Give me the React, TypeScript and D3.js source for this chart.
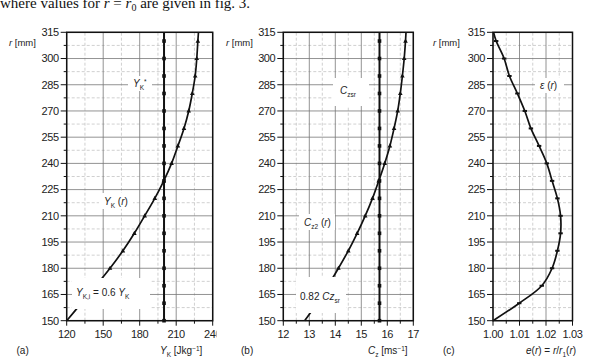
import React from "react";
import * as d3 from "d3";

// radial stations [mm]
const rValues = [150, 160, 170, 180, 190, 200, 210, 220, 230, 240, 250, 260, 270, 280, 290, 300, 310, 315];
const rLineMarks = [150, 160, 170, 180, 190, 200, 210, 220, 230, 240, 250, 260, 270, 280, 290, 300, 310];
const rCurveMarks = [180, 190, 200, 210, 220, 230, 240, 250, 260, 270, 280, 290, 300, 310];
const rEpsMarks = [160, 170, 180, 190, 200, 210, 220, 230, 240, 250, 260, 270, 280, 290, 300, 310];
const rTicks = [150, 165, 180, 195, 210, 225, 240, 255, 270, 285, 300, 315];

// (a) specific work
const yKValues = [120, 132, 144, 155.6, 166.2, 175.6, 184.1, 192.4, 199.8, 206.2, 211.4, 216.4, 220.3, 223.2, 225.6, 226.9, 227.8, 228.3];
const yKStar = 200;
const aTicks = [120, 150, 180, 210, 240];
const aMinor = [135, 165, 195, 225];

// (b) axial velocity
const czValues = [12.82, 13.3, 13.72, 14.12, 14.5, 14.84, 15.15, 15.43, 15.67, 15.9, 16.1, 16.26, 16.4, 16.5, 16.58, 16.65, 16.7, 16.72];
const czSr = 15.7;
const bTicks = [12, 13, 14, 15, 16, 17];
const bMinor = [12.5, 13.5, 14.5, 15.5, 16.5];

// (c) eps(r)
const epsValues = [1.0, 1.0099, 1.0184, 1.0223, 1.0243, 1.0255, 1.0255, 1.0243, 1.0223, 1.0203, 1.0174, 1.0143, 1.012, 1.0092, 1.0062, 1.0042, 1.0012, 1.0002];
const cTicks = [1.0, 1.01, 1.02, 1.03];
const cMinor = [1.005, 1.015, 1.025];

const FONT = "'Liberation Sans', Arial, sans-serif";
const TXT = "#222";
const y = d3.scaleLinear().domain([150, 315]).range([320.7, 32.3]);
const rMinor = rTicks.slice(1).map((t) => t - 7.5);

function Sub({ children }: { children: React.ReactNode }) {
  return (
    <tspan fontSize={6.5} dy={2.5}>
      {children}
    </tspan>
  );
}

function Panel(props: {
  x: d3.ScaleLinear<number, number>;
  ticks: number[];
  minor: number[];
  fmt: (v: number) => string;
  values: number[];
  marks: number[];
  markShape: "tri" | "dash";
  vline?: number;
  tag: string;
  tagX: number;
  title: React.ReactNode;
  titleX: number;
  rLabelX: number;
  clipId: string;
  clipRight: number;
  children?: React.ReactNode;
}) {
  const { x, ticks, minor, fmt, values, marks, vline } = props;
  const [x0, x1] = x.range();
  const line = d3
    .line<number>()
    .x((v) => x(v))
    .y((_, i) => y(rValues[i]))
    .curve(d3.curveCatmullRom.alpha(0.5));
  return (
    <g fontFamily={FONT}>
      <clipPath id={props.clipId}>
        <rect x={x0 - 60} y={0} width={props.clipRight - x0 + 60} height={358} />
      </clipPath>
      <g clipPath={`url(#${props.clipId})`}>
        {/* minor grid */}
        {minor.map((t) => (
          <line key={"mx" + t} x1={x(t)} x2={x(t)} y1={y(150)} y2={y(315)} stroke="#bbb" strokeWidth={0.7} strokeDasharray="3,2" />
        ))}
        {rMinor.map((t) => (
          <line key={"my" + t} x1={x0} x2={x1} y1={y(t)} y2={y(t)} stroke="#bbb" strokeWidth={0.7} strokeDasharray="3,2" />
        ))}
        {/* major grid */}
        {ticks.map((t) => (
          <line key={"gx" + t} x1={x(t)} x2={x(t)} y1={y(150)} y2={y(315)} stroke="#777" strokeWidth={0.8} />
        ))}
        {rTicks.map((t) => (
          <line key={"gy" + t} x1={x0} x2={x1} y1={y(t)} y2={y(t)} stroke="#777" strokeWidth={0.8} />
        ))}
        {vline !== undefined && (
          <g>
            <line x1={x(vline)} x2={x(vline)} y1={y(150)} y2={y(315)} stroke="#111" strokeWidth={2} />
            {rLineMarks.map((r) => (
              <rect key={"vm" + r} x={x(vline) - 1.8} y={y(r) - 1.8} width={3.6} height={3.6} fill="#111" />
            ))}
          </g>
        )}
        <path d={line(values) || ""} fill="none" stroke="#111" strokeWidth={1.7} />
        {marks.map((r) => {
          const i = rValues.indexOf(r);
          const cx = x(values[i]);
          const cy = y(r);
          return props.markShape === "tri" ? (
            <path key={"cm" + r} d={`M${cx},${cy - 2.6}L${cx + 2.3},${cy + 1.6}L${cx - 2.3},${cy + 1.6}Z`} fill="#111" />
          ) : (
            <rect key={"cm" + r} x={cx - 2.2} y={cy - 1} width={4.4} height={2} fill="#111" />
          );
        })}
        {/* labels with white boxes sit over grid and curve */}
        {props.children}
        {/* frame */}
        <rect x={x0} y={y(315)} width={x1 - x0} height={y(150) - y(315)} fill="none" stroke="#111" strokeWidth={1.5} />
        {/* y axis ticks */}
        {rTicks.map((t) => (
          <g key={"ty" + t}>
            <line x1={x0 - 6} x2={x0} y1={y(t)} y2={y(t)} stroke="#111" strokeWidth={1} />
            <text x={x0 - 8} y={y(t)} dy="0.35em" textAnchor="end" fontSize={11} fill={TXT} letterSpacing={-0.4}>
              {t}
            </text>
          </g>
        ))}
        {rMinor.map((t) => (
          <line key={"tmy" + t} x1={x0 - 3} x2={x0} y1={y(t)} y2={y(t)} stroke="#111" strokeWidth={1} />
        ))}
        {/* x axis ticks */}
        {ticks.map((t) => (
          <g key={"tx" + t}>
            <line x1={x(t)} x2={x(t)} y1={y(150)} y2={y(150) + 5} stroke="#111" strokeWidth={1} />
            <text x={x(t)} y={338} textAnchor="middle" fontSize={11} fill={TXT} letterSpacing={-0.4}>
              {fmt(t)}
            </text>
          </g>
        ))}
        {minor.map((t) => (
          <line key={"tmx" + t} x1={x(t)} x2={x(t)} y1={y(150)} y2={y(150) + 3} stroke="#111" strokeWidth={1} />
        ))}
      </g>
      <text x={props.rLabelX} y={46} fontSize={9.5} fill={TXT}>
        <tspan fontStyle="italic">r</tspan> [mm]
      </text>
      <text x={props.tagX} y={354} fontSize={10} fill={TXT}>
        {props.tag}
      </text>
      <text x={props.titleX} y={354} fontSize={10} fill={TXT}>
        {props.title}
      </text>
    </g>
  );
}

function Label(props: {
  x: number;
  y: number;
  box: [number, number, number, number];
  children: React.ReactNode;
}) {
  const [bx, by, bw, bh] = props.box;
  return (
    <g>
      <rect x={bx} y={by} width={bw} height={bh} fill="#fff" />
      <text x={props.x} y={props.y} fontSize={10} fill={TXT} fontFamily={FONT}>
        {props.children}
      </text>
    </g>
  );
}

export default function App() {
  const xa = d3.scaleLinear().domain([120, 240]).range([66.7, 212.7]);
  const xb = d3.scaleLinear().domain([12, 17]).range([283.3, 413.3]);
  const xc = d3.scaleLinear().domain([1.0, 1.03]).range([493, 572.5]);
  return (
    <svg width={595} height={358} style={{ position: "absolute", left: 0, top: 0, background: "#fff" }}>
      <text x={0} y={8} fontFamily="'Liberation Serif', 'Times New Roman', serif" fontSize={15} fill="#111">
        where values for <tspan fontStyle="italic">r</tspan> = <tspan fontStyle="italic">r</tspan>
        <tspan fontSize={10} dy={3}>0</tspan>
        <tspan dy={-3}> are given in fig. 3.</tspan>
      </text>

      <Panel
        x={xa}
        ticks={aTicks}
        minor={aMinor}
        fmt={(v) => String(v)}
        values={yKValues}
        marks={rCurveMarks}
        markShape="tri"
        vline={yKStar}
        tag="(a)"
        tagX={16.5}
        title={
          <>
            <tspan fontStyle="italic">Y</tspan>
            <Sub>K</Sub>
            <tspan dy={-2.5}> [Jkg</tspan>
            <tspan fontSize={6.5} dy={-3.5}>−1</tspan>
            <tspan dy={3.5}>]</tspan>
          </>
        }
        titleX={160}
        rLabelX={9}
        clipId="clipA"
        clipRight={216.5}
      >
        <Label x={133} y={87} box={[128, 76, 24, 15]}>
          <tspan fontStyle="italic">Y</tspan>
          <Sub>K</Sub>
          <tspan fontSize={6.5} dy={-5.5}>*</tspan>
        </Label>
        <Label x={104} y={205} box={[99, 193, 34, 16]}>
          <tspan fontStyle="italic">Y</tspan>
          <Sub>K</Sub>
          <tspan dy={-2.5}> (</tspan>
          <tspan fontStyle="italic">r</tspan>)
        </Label>
        <Label x={76} y={296} box={[72, 278, 78, 31]}>
          <tspan fontStyle="italic">Y</tspan>
          <Sub>K,i</Sub>
          <tspan dy={-2.5}> = 0.6 </tspan>
          <tspan fontStyle="italic">Y</tspan>
          <Sub>K</Sub>
        </Label>
      </Panel>

      <Panel
        x={xb}
        ticks={bTicks}
        minor={bMinor}
        fmt={(v) => String(v)}
        values={czValues}
        marks={rCurveMarks}
        markShape="tri"
        vline={czSr}
        tag="(b)"
        tagX={241}
        title={
          <>
            <tspan fontStyle="italic">C</tspan>
            <Sub>z</Sub>
            <tspan dy={-2.5}> [ms</tspan>
            <tspan fontSize={6.5} dy={-3.5}>−1</tspan>
            <tspan dy={3.5}>]</tspan>
          </>
        }
        titleX={368}
        rLabelX={226}
        clipId="clipB"
        clipRight={430}
      >
        <Label x={340} y={94} box={[333, 78, 36, 28]}>
          <tspan fontStyle="italic">C</tspan>
          <Sub>zsr</Sub>
        </Label>
        <Label x={304} y={226} box={[299, 214, 36, 16]}>
          <tspan fontStyle="italic">C</tspan>
          <Sub>z2</Sub>
          <tspan dy={-2.5}> (</tspan>
          <tspan fontStyle="italic">r</tspan>)
        </Label>
        <Label x={300} y={300} box={[296, 277, 50, 36]}>
          0.82 <tspan fontStyle="italic">Cz</tspan>
          <Sub>sr</Sub>
        </Label>
      </Panel>

      <Panel
        x={xc}
        ticks={cTicks}
        minor={cMinor}
        fmt={(v) => v.toFixed(2)}
        values={epsValues}
        marks={rEpsMarks}
        markShape="dash"
        tag="(c)"
        tagX={443}
        title={
          <>
            <tspan fontStyle="italic">e</tspan>(<tspan fontStyle="italic">r</tspan>) = <tspan fontStyle="italic">r</tspan>/
            <tspan fontStyle="italic">r</tspan>
            <Sub>1</Sub>
            <tspan dy={-2.5}>(</tspan>
            <tspan fontStyle="italic">r</tspan>)
          </>
        }
        titleX={526}
        rLabelX={433}
        clipId="clipC"
        clipRight={595}
      >
        <Label x={540} y={89} box={[535, 78, 29, 15]}>
          <tspan fontStyle="italic">ε</tspan> (<tspan fontStyle="italic">r</tspan>)
        </Label>
      </Panel>
    </svg>
  );
}
